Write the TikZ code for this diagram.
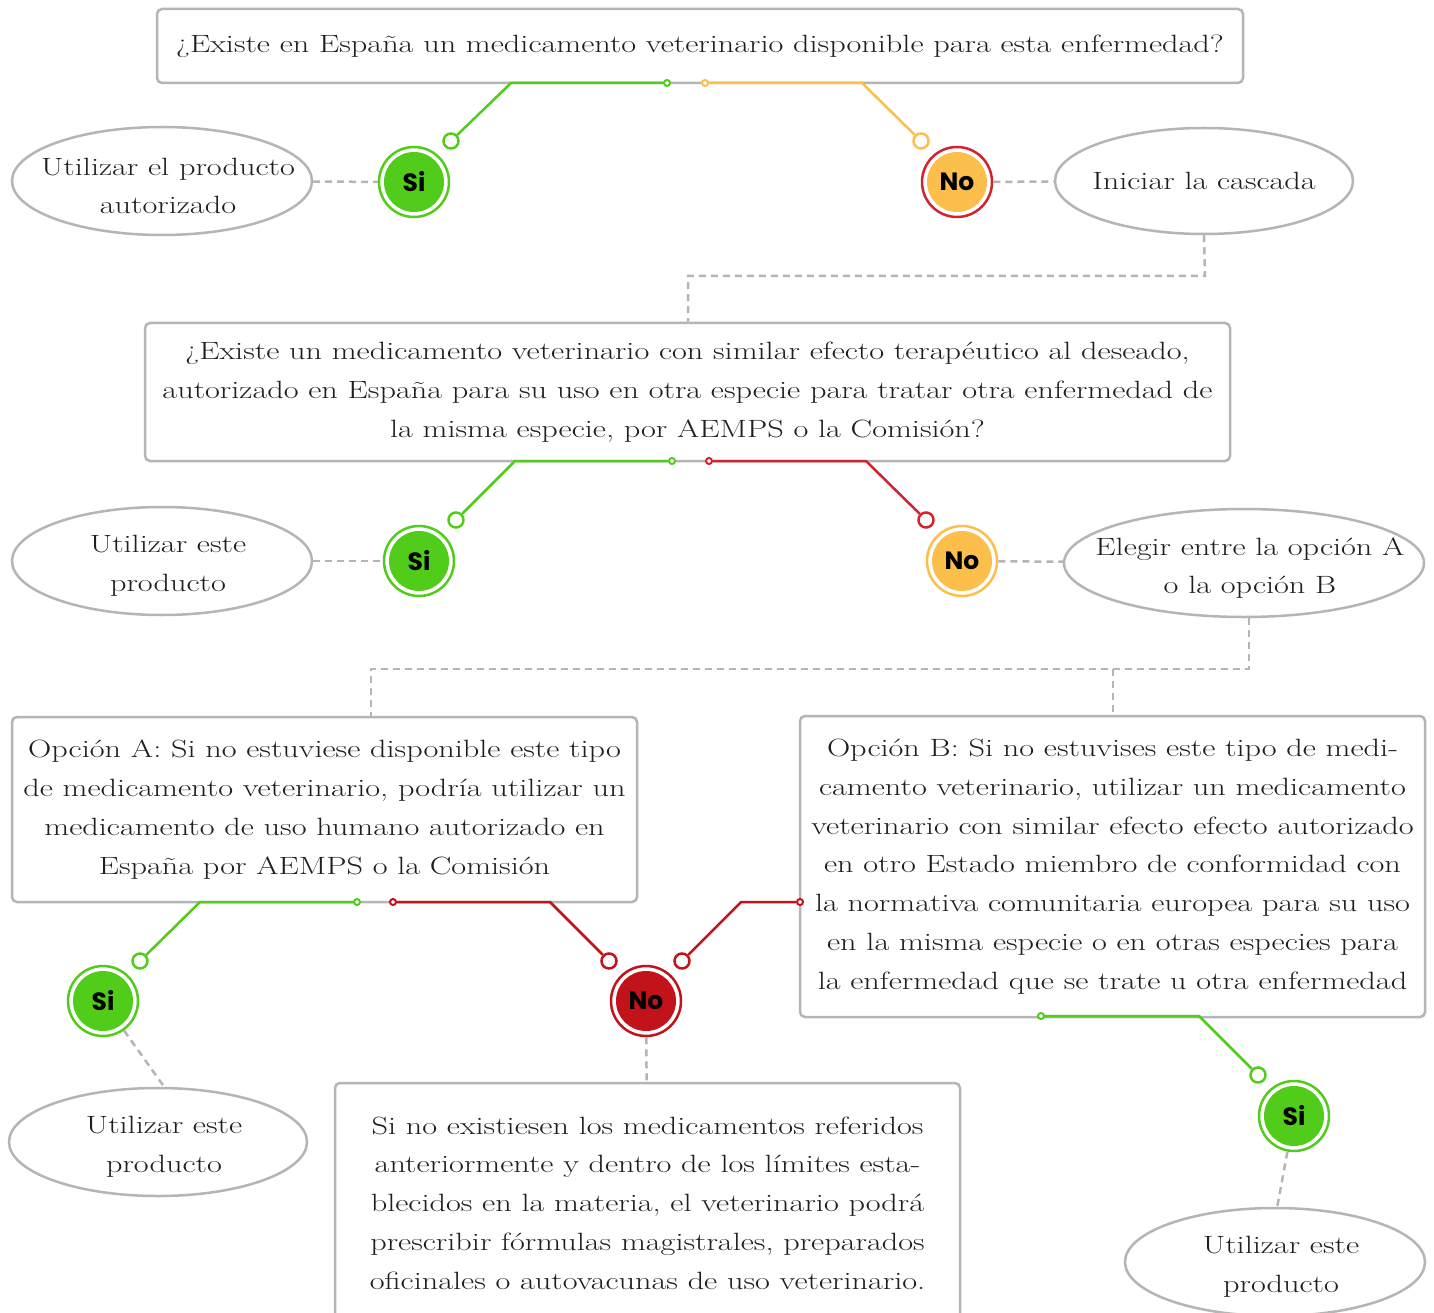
\documentclass[tikz,border=0pt]{standalone}
\usepackage{fontspec}
\setmainfont{Latin Modern Roman}[FakeStretch=1.29]
\newfontfamily\circfont{Poppins}
\usetikzlibrary{shapes.geometric}
\definecolor{cgreen}{HTML}{52CC1A}
\definecolor{corange}{HTML}{FDBF4B}
\definecolor{cred}{HTML}{D0242E}
\definecolor{cdred}{HTML}{C2121A}
\definecolor{cgray}{HTML}{B5B5B5}
\tikzset{
  x=1pt,y=-1pt,
  txt/.style={font=\fontsize{25}{38.8}\selectfont, align=center, text=black!88},
  qbox/.style={txt, draw=cgray, line width=2.5pt, rounded corners=5pt, inner sep=0pt},
  oval/.style={ellipse, draw=cgray, line width=2.5pt, inner sep=0pt},
  dlink/.style={draw=cgray, line width=2.5pt, dash pattern=on 7pt off 5pt},
  ans/.style={circle, minimum size=70pt, line width=2.5pt, fill=white, inner sep=0pt,
     font=\circfont\bfseries\fontsize{25}{25}\selectfont, text=black},
  yes/.style={ans, draw=cgreen, path picture={\fill[cgreen] (path picture bounding box.center) circle (30pt);}},
  noo/.style={ans, draw=#1, path picture={\fill[corange] (path picture bounding box.center) circle (30pt);}},
  nor/.style={ans, draw=cdred, path picture={\fill[cdred] (path picture bounding box.center) circle (30pt);}},
  endc/.style={circle, draw=#1, line width=2.5pt, fill=white, minimum size=15pt, inner sep=0pt},
  dotc/.style={circle, draw=#1, line width=2pt, fill=white, minimum size=6pt, inner sep=0pt},
  lnk/.style={draw=#1, line width=2.5pt},
  otxt/.style={txt, xshift=6pt, yshift=-5pt},
}
\begin{document}
\begin{tikzpicture}
\clip (0,0) rectangle (1434,1313);
\fill[white] (0,0) rectangle (1434,1313);

% ---------- Level 1
\node[qbox, minimum width=1086pt, minimum height=74pt] (q1) at (700,46)
 {¿Existe en España un medicamento veterinario disponible para esta enfermedad?};
\node[yes] (s1) at (414,182) {Si};
\node[noo=cred] (n1) at (957,182) {No};
\node[oval, minimum width=300pt, minimum height=108pt] (e1) at (162,181) {};
\node[otxt] (e1t) at (e1.center) {Utilizar el producto\\autorizado};
\node[oval, minimum width=298pt, minimum height=106pt] (e2) at (1204,181) {};
\node[txt] (e2t) at (e2.center) {Iniciar la cascada};
\node[dotc=cgreen] (d1g) at (667,83) {};
\coordinate (k1g) at (511,83);
\node[endc=cgreen] (c1g) at (451,141) {};
\node[dotc=corange] (d1o) at (705,83) {};
\coordinate (k1o) at (862,83);
\node[endc=corange] (c1o) at (921,141) {};
\draw[lnk=cgreen] (d1g) -- (k1g) -- (c1g);
\draw[lnk=corange] (d1o) -- (k1o) -- (c1o);
\draw[dlink] (e1) -- (s1);
\draw[dlink] (n1) -- (e2);

% ---------- Level 2
\node[qbox, minimum width=1085pt, minimum height=138pt] (q2) at (687.5,392)
 {¿Existe un medicamento veterinario con similar efecto terapéutico al deseado,\\
  autorizado en España para su uso en otra especie para tratar otra enfermedad de\\
  la misma especie, por AEMPS o la Comisión?};
\coordinate (j1) at (1205,276);
\coordinate (j2) at (688,276);
\draw[dlink] (e2.south) -- (j1) -- (j2) -- (q2.north -| j2);
\node[yes] (s2) at (419,561) {Si};
\node[noo=corange] (n2) at (962,561) {No};
\node[oval, minimum width=300pt, minimum height=108pt] (e3) at (162,561) {};
\node[otxt] (e3t) at (e3.center) {Utilizar este\\producto};
\node[oval, minimum width=360pt, minimum height=108pt] (e4) at (1244,563) {};
\node[otxt] (e4t) at (e4.center) {Elegir entre la opción A\\o la opción B};
\node[dotc=cgreen] (d2g) at (672,461) {};
\coordinate (k2g) at (515,461);
\node[endc=cgreen] (c2g) at (456,520) {};
\node[dotc=cred] (d2r) at (709,461) {};
\coordinate (k2r) at (866,461);
\node[endc=cred] (c2r) at (926,520) {};
\draw[lnk=cgreen] (d2g) -- (k2g) -- (c2g);
\draw[lnk=cred] (d2r) -- (k2r) -- (c2r);
\draw[dlink] (e3) -- (s2);
\draw[dlink] (n2) -- (e4);

% ---------- Level 3
\node[qbox, minimum width=625pt, minimum height=185pt] (qa) at (324.5,809.5)
 {Opción A: Si no estuviese disponible este tipo\\
  de medicamento veterinario, podría utilizar un\\
  medicamento de uso humano autorizado en\\
  España por AEMPS o la Comisión};
\node[qbox, minimum width=625pt, minimum height=301pt] (qb) at (1112.5,866.5)
 {Opción B: Si no estuvises este tipo de medi-\\
  camento veterinario, utilizar un medicamento\\
  veterinario con similar efecto efecto autorizado\\
  en otro Estado miembro de conformidad con\\
  la normativa comunitaria europea para su uso\\
  en la misma especie o en otras especies para\\
  la enfermedad que se trate u otra enfermedad};
\coordinate (j3) at (1249,669);
\coordinate (j4) at (371,669);
\coordinate (j5) at (1113,669);
\draw[dlink] (e4.south -| j3) -- (j3) -- (j4) -- (qa.north -| j4);
\draw[dlink] (j5) -- (qb.north -| j5);

\node[yes] (s3) at (103,1001) {Si};
\node[nor] (n3) at (646,1001) {No};
\node[oval, minimum width=298pt, minimum height=108pt] (e5) at (158,1142) {};
\node[otxt] (e5t) at (e5.center) {Utilizar este\\producto};
\coordinate (t5) at (165,1088);
\node[qbox, minimum width=625pt, minimum height=240pt] (qc) at (647.5,1203)
 {Si no existiesen los medicamentos referidos\\
  anteriormente y dentro de los límites esta-\\
  blecidos en la materia, el veterinario podrá\\
  prescribir fórmulas magistrales, preparados\\
  oficinales o autovacunas de uso veterinario.};
\node[dotc=cgreen] (d3g) at (357,902) {};
\coordinate (k3g) at (200,902);
\node[endc=cgreen] (c3g) at (140,961) {};
\node[dotc=cdred] (d3r) at (393,902) {};
\coordinate (k3r) at (550,902);
\node[endc=cdred] (c3r) at (609,961) {};
\node[dotc=cdred] (d4r) at (800,902) {};
\coordinate (k4r) at (741,902);
\node[endc=cdred] (c4r) at (682,961) {};
\draw[lnk=cgreen] (d3g) -- (k3g) -- (c3g);
\draw[lnk=cdred] (d3r) -- (k3r) -- (c3r);
\draw[lnk=cdred] (d4r) -- (k4r) -- (c4r);
\draw[dlink] (s3) -- (t5);
\draw[dlink] (n3) -- (qc);

\node[yes] (s4) at (1294,1116) {Si};
\node[oval, minimum width=300pt, minimum height=108pt] (e6) at (1275,1262) {};
\node[otxt] (e6t) at (e6.center) {Utilizar este\\producto};
\coordinate (t6) at (1277,1208);
\node[dotc=cgreen] (d5g) at (1041,1016) {};
\coordinate (k5g) at (1199,1016);
\node[endc=cgreen] (c5g) at (1258,1075) {};
\draw[lnk=cgreen] (d5g) -- (k5g) -- (c5g);
\draw[dlink] (s4) -- (t6);
\end{tikzpicture}
\end{document}
